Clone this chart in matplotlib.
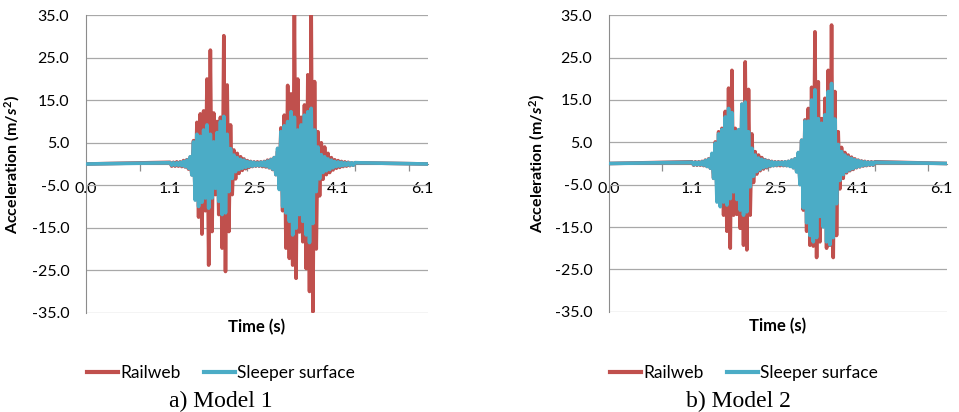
import numpy as np
import matplotlib
matplotlib.use('Agg')
import matplotlib.pyplot as plt
from matplotlib.lines import Line2D

plt.rcParams['font.family'] = ['Lato', 'DejaVu Sans']
plt.rcParams['mathtext.fontset'] = 'custom'
plt.rcParams['mathtext.it'] = 'Lato:bold:italic'
plt.rcParams['mathtext.rm'] = 'Lato:bold'

RED = '#C0504D'
BLUE = '#4BACC6'
GREY = '#8c8c8c'

# category axis: label positions and their time labels
tick_pos = [0, 1, 2, 3, 4]
tick_labels = ['0.0', '1.1', '2.5', '4.1', '6.1']
x_end = 4.07

# samples start at t0, one every dt (peaks alternate up / down)
t0 = 1.0
dt = 0.02

m1_railweb = [
    0.4, -0.5, 0.4, -0.5, 0.5, -0.5, 0.5, -0.6, 0.8, -0.7,
    1.0, -1.2, 1.6, -2.5, 5.5, -8.0, 9.8, -12.5, 11.8, -16.5,
    12.5, -11.0, 20.0, -23.8, 26.8, -15.9, 12.0, -7.2, 10.0, -11.9,
    11.0, -19.8, 30.2, -25.3, 18.6, -15.9, 9.2, -7.2, 3.3, -3.5,
    2.5, -2.2, 1.7, -1.5, 1.2, -1.1, 0.8, -0.8, 0.6, -0.6,
    0.5, -0.5, 0.5, -0.5, 0.5, -0.6, 0.6, -0.7, 0.9, -0.9,
    1.1, -1.3, 1.5, -2.5, 3.0, -5.0, 8.5, -11.0, 11.5, -19.8,
    18.5, -22.2, 16.5, -23.8, 37.0, -26.9, 20.0, -16.0, 11.0, -18.3,
    13.9, -24.6, 21.0, -30.0, 36.5, -34.8, 19.4, -20.0, 7.6, -7.5,
    5.0, -3.6, 4.0, -2.5, 2.5, -2.0, 1.5, -1.4, 1.0, -1.0,
    0.8, -0.8, 0.6, -0.6, 0.5, -0.5, 0.4, -0.4, 0.3, -0.3, 0.3,
]
m1_sleeper = [
    0.3, -0.3, 0.3, -0.3, 0.3, -0.3, 0.4, -0.4, 0.6, -0.6,
    0.9, -1.0, 1.7, -2.6, 5.2, -8.5, 7.0, -10.0, 6.5, -9.0,
    8.0, -8.0, 9.2, -10.4, 7.0, -8.0, 5.2, -5.7, 7.4, -8.8,
    10.0, -11.9, 11.2, -11.5, 7.0, -6.5, 3.6, -3.4, 2.1, -1.8,
    1.5, -1.3, 1.1, -1.0, 0.9, -0.8, 0.6, -0.6, 0.5, -0.5,
    0.4, -0.4, 0.3, -0.4, 0.4, -0.4, 0.5, -0.5, 0.7, -0.8,
    1.0, -1.2, 1.5, -2.5, 3.7, -6.0, 7.6, -10.0, 9.0, -11.5,
    10.0, -13.5, 12.3, -16.7, 11.0, -15.1, 8.0, -11.9, 9.2, -13.5,
    11.5, -16.7, 12.3, -18.5, 13.1, -14.0, 8.0, -6.5, 4.0, -3.5,
    2.2, -2.0, 1.7, -1.6, 1.2, -1.3, 0.9, -0.9, 0.6, -0.6,
    0.5, -0.5, 0.4, -0.4, 0.3, -0.3, 0.3, -0.3, 0.3, -0.3, 0.3,
]
m2_railweb = [
    0.4, -0.4, 0.4, -0.4, 0.4, -0.4, 0.5, -0.5, 0.8, -0.7,
    1.1, -1.1, 2.0, -3.5, 5.1, -6.7, 7.5, -9.5, 8.3, -12.2,
    12.3, -16.0, 17.8, -20.0, 22.0, -12.2, 8.3, -12.0, 7.5, -15.3,
    14.0, -19.3, 24.0, -20.4, 17.5, -12.2, 7.0, -4.5, 2.8, -2.5,
    2.0, -1.7, 1.4, -1.3, 0.9, -1.0, 0.7, -0.7, 0.5, -0.5,
    0.4, -0.5, 0.4, -0.5, 0.4, -0.5, 0.4, -0.5, 0.5, -0.6,
    0.8, -1.0, 1.1, -1.8, 2.5, -4.3, 5.5, -11.0, 10.3, -16.0,
    13.0, -19.3, 18.0, -19.5, 31.1, -22.2, 19.3, -18.5, 10.6, -12.2,
    15.4, -20.0, 22.0, -19.3, 32.7, -22.2, 17.0, -17.0, 7.5, -6.0,
    3.8, -3.5, 2.6, -2.2, 2.0, -1.7, 1.5, -1.4, 1.1, -1.0,
    0.8, -0.8, 0.6, -0.6, 0.5, -0.5, 0.4, -0.4, 0.4, -0.4, 0.4,
]
m2_sleeper = [
    0.3, -0.3, 0.3, -0.3, 0.3, -0.3, 0.4, -0.4, 0.7, -0.7,
    1.0, -1.1, 2.4, -3.5, 4.8, -9.1, 7.0, -10.2, 8.0, -9.1,
    11.0, -9.8, 13.0, -8.3, 12.0, -6.7, 7.5, -8.5, 8.0, -11.0,
    14.0, -12.2, 14.5, -11.4, 7.5, -5.5, 3.6, -3.0, 2.0, -1.9,
    1.3, -1.4, 1.0, -1.0, 0.8, -0.8, 0.6, -0.6, 0.4, -0.5,
    0.3, -0.4, 0.3, -0.3, 0.3, -0.4, 0.4, -0.5, 0.5, -0.7,
    0.8, -1.0, 1.1, -2.0, 2.6, -5.0, 5.5, -10.5, 10.0, -14.0,
    10.0, -17.0, 15.0, -18.5, 17.4, -17.5, 10.6, -12.5, 9.5, -15.0,
    11.5, -18.5, 17.0, -19.2, 18.9, -17.5, 10.5, -9.5, 4.5, -4.0,
    2.8, -2.6, 2.0, -1.9, 1.5, -1.5, 1.2, -1.2, 0.9, -0.9,
    0.7, -0.7, 0.5, -0.5, 0.4, -0.4, 0.3, -0.3, 0.3, -0.3, 0.3,
]


def series(vals):
    # flat at zero outside the recorded window
    t = np.concatenate([[0.0], t0 + dt * np.arange(len(vals)), [x_end]])
    y = np.concatenate([[0.0], vals, [0.0]])
    return t, y


def draw(ax, rail, sleeper, ylab_x):
    t, y = series(rail)
    ax.plot(t, y, color=RED, lw=2.6, zorder=3)
    t, y = series(sleeper)
    ax.plot(t, y, color=BLUE, lw=2.6, zorder=4)

    ax.set_xlim(0, x_end)
    ax.set_ylim(-35, 35)
    yt = np.arange(-35, 36, 10)
    ax.set_yticks(yt)
    ax.set_yticklabels(['%.1f' % v for v in yt])
    ax.grid(axis='y', color='#a8a8a8', lw=0.9)
    ax.set_axisbelow(True)

    for s in ['top', 'right']:
        ax.spines[s].set_visible(False)
    ax.spines['left'].set_color(GREY)
    ax.spines['bottom'].set_position(('data', 0))
    ax.spines['bottom'].set_color(GREY)

    ax.set_xticks(tick_pos)
    ax.set_xticklabels(tick_labels)
    ax.set_xticks(np.arange(0.64, 4.0, 0.64), minor=True)
    ax.tick_params(axis='x', which='major', length=0, pad=13, labelsize=11.5)
    ax.tick_params(axis='x', which='minor', length=5, color=GREY, width=0.9)
    ax.tick_params(axis='y', length=0, pad=12, labelsize=11.5)

    ax.set_ylabel(r'Acceleration (m/$s^2$)', fontsize=11.5, fontweight='bold')
    ax.yaxis.set_label_coords(ylab_x, 0.5)
    ax.text(0.5, -0.048, 'Time (s)', transform=ax.transAxes, ha='center',
            va='center', fontsize=12, fontweight='bold')


W, H = 959, 412
fig = plt.figure(figsize=(W / 100, H / 100), dpi=100)

ax1 = fig.add_axes([86 / W, 1 - 312.7 / H, 342 / W, 297.4 / H])
draw(ax1, m1_railweb, m1_sleeper, -0.187)

ax2 = fig.add_axes([609 / W, 1 - 311.7 / H, 338 / W, 296.4 / H])
draw(ax2, m2_railweb, m2_sleeper, -0.183)

handles = [Line2D([], [], color=RED, lw=3), Line2D([], [], color=BLUE, lw=3)]
names = ['Railweb', 'Sleeper surface']
for cx, cap in [(221, 'a) Model 1'), (744, 'b) Model 2')]:
    fig.legend(handles, names, loc='center', bbox_to_anchor=(cx / W, 1 - 373 / H),
               ncol=2, frameon=False, handlelength=1.8, handletextpad=0.15,
               columnspacing=1.3, fontsize=12.5)
for cx, cap in [(221, 'a) Model 1'), (738, 'b) Model 2')]:
    fig.text(cx / W, 5 / H, cap, ha='center', va='baseline',
             family='Liberation Serif', fontsize=17)

fig.savefig('out.png', dpi=100)
